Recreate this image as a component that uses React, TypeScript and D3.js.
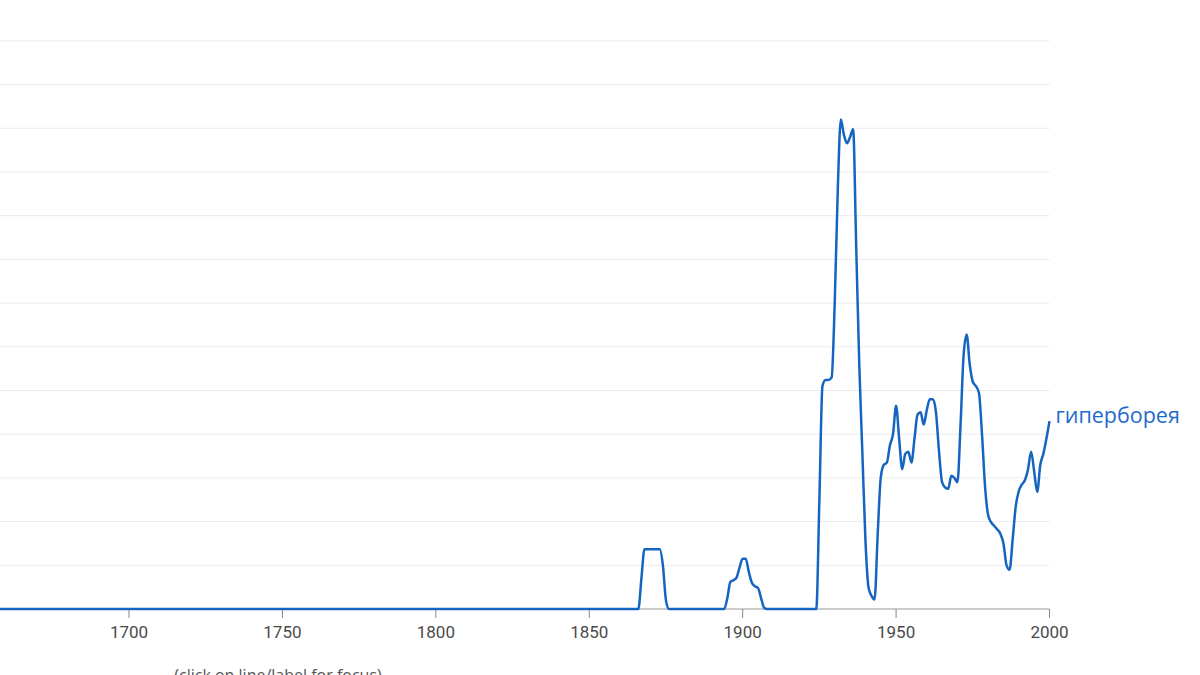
import * as d3 from "d3"
import { useEffect, useRef } from "react"

const word = "гиперборея"
const xTicks = [1700, 1750, 1800, 1850, 1900, 1950, 2000]
const gridSteps = [1, 2, 3, 4, 5, 6, 7, 8, 9, 10, 11, 12, 13]

// yearly frequency, in gridline units (flat zero runs are given by their ends)
const years = [
    1640, 1866, 1867, 1868, 1869, 1870, 1871, 1872, 1873, 1874, 1875, 1876,
    1894, 1895, 1896, 1897, 1898, 1899, 1900, 1901, 1902, 1903, 1904, 1905, 1906, 1907, 1908,
    1924, 1925, 1926, 1927, 1928, 1929, 1930, 1931, 1932, 1933, 1934, 1935, 1936, 1937, 1938, 1939,
    1940, 1941, 1942, 1943, 1944, 1945, 1946, 1947, 1948, 1949,
    1950, 1951, 1952, 1953, 1954, 1955, 1956, 1957, 1958, 1959,
    1960, 1961, 1962, 1963, 1964, 1965, 1966, 1967, 1968, 1969,
    1970, 1971, 1972, 1973, 1974, 1975, 1976, 1977, 1978, 1979,
    1980, 1981, 1982, 1983, 1984, 1985, 1986, 1987, 1988, 1989,
    1990, 1991, 1992, 1993, 1994, 1995, 1996, 1997, 1998, 1999, 2000,
]
const values = [
    0, 0, 0.7, 1.37, 1.37, 1.37, 1.37, 1.37, 1.37, 1.0, 0.2, 0,
    0, 0.25, 0.62, 0.66, 0.72, 0.95, 1.15, 1.15, 0.85, 0.6, 0.52, 0.48, 0.25, 0.03, 0,
    0, 2.5, 5.1, 5.24, 5.24, 5.3, 7.0, 9.6, 11.2, 10.85, 10.66, 10.8, 10.98, 8.3, 5.6, 3.6,
    1.6, 0.5, 0.3, 0.22, 1.7, 3.0, 3.3, 3.35, 3.75, 4.0,
    4.65, 3.9, 3.2, 3.55, 3.6, 3.35, 3.9, 4.45, 4.5, 4.22,
    4.55, 4.8, 4.8, 4.5, 3.6, 2.9, 2.78, 2.75, 3.05, 3.0,
    2.9, 4.2, 5.8, 6.28, 5.6, 5.2, 5.1, 4.95, 4.0, 2.8,
    2.15, 1.98, 1.9, 1.82, 1.72, 1.5, 1.0, 0.9, 1.6, 2.35,
    2.7, 2.85, 2.95, 3.2, 3.6, 3.15, 2.68, 3.3, 3.55, 3.9, 4.3,
]

export default function App() {
    const ref = useRef<SVGSVGElement | null>(null)

    useEffect(() => {
        const width = 1200
        const height = 675
        const svg = d3.select(ref.current)
        svg.selectAll("*").remove()
        svg.attr("width", width).attr("height", height)
            .style("position", "absolute").style("left", 0).style("top", 0)
            .style("background", "#fff")

        const x = d3.scaleLinear().domain([1700, 2000]).range([129, 1049.5])
        const y = d3.scaleLinear().domain([0, 13]).range([609, 40.9])

        svg.append("g")
            .selectAll("line")
            .data(gridSteps)
            .join("line")
            .attr("x1", 0)
            .attr("x2", x(2000))
            .attr("y1", d => y(d))
            .attr("y2", d => y(d))
            .attr("stroke", "#ebebeb")
            .attr("stroke-width", 1)

        const axis = svg.append("g")
        axis.append("line")
            .attr("x1", 0).attr("x2", x(2000))
            .attr("y1", y(0)).attr("y2", y(0))
            .attr("stroke", "#999")
        axis.selectAll("line.tick")
            .data(xTicks)
            .join("line")
            .attr("class", "tick")
            .attr("x1", d => x(d)).attr("x2", d => x(d))
            .attr("y1", y(0)).attr("y2", y(0) + 9)
            .attr("stroke", "#888")
        axis.selectAll("text")
            .data(xTicks)
            .join("text")
            .attr("x", d => x(d))
            .attr("y", 638)
            .attr("text-anchor", "middle")
            .attr("font-family", "Roboto, sans-serif")
            .attr("font-size", 17)
            .attr("fill", "#4a4a4a")
            .text(d => String(d))

        const points = years.map((yr, i) => [yr, values[i]] as [number, number])
        const line = d3.line<[number, number]>()
            .x(d => x(d[0]))
            .y(d => y(d[1]))
            .curve(d3.curveMonotoneX)

        svg.append("path")
            .datum(points)
            .attr("d", line)
            .attr("fill", "none")
            .attr("stroke", "#1565c0")
            .attr("stroke-width", 2.5)
            .attr("stroke-linejoin", "round")

        svg.append("text")
            .attr("x", x(2000) + 6)
            .attr("y", 423)
            .attr("font-family", "'Open Sans', sans-serif")
            .attr("font-size", 21.5)
            .attr("fill", "#1f6acb")
            .text(word)

        svg.append("text")
            .attr("x", 278)
            .attr("y", 681)
            .attr("text-anchor", "middle")
            .attr("font-family", "'Open Sans', sans-serif")
            .attr("font-size", 16)
            .attr("fill", "#555")
            .text("(click on line/label for focus)")
    }, [])

    return <svg ref={ref} />
}
